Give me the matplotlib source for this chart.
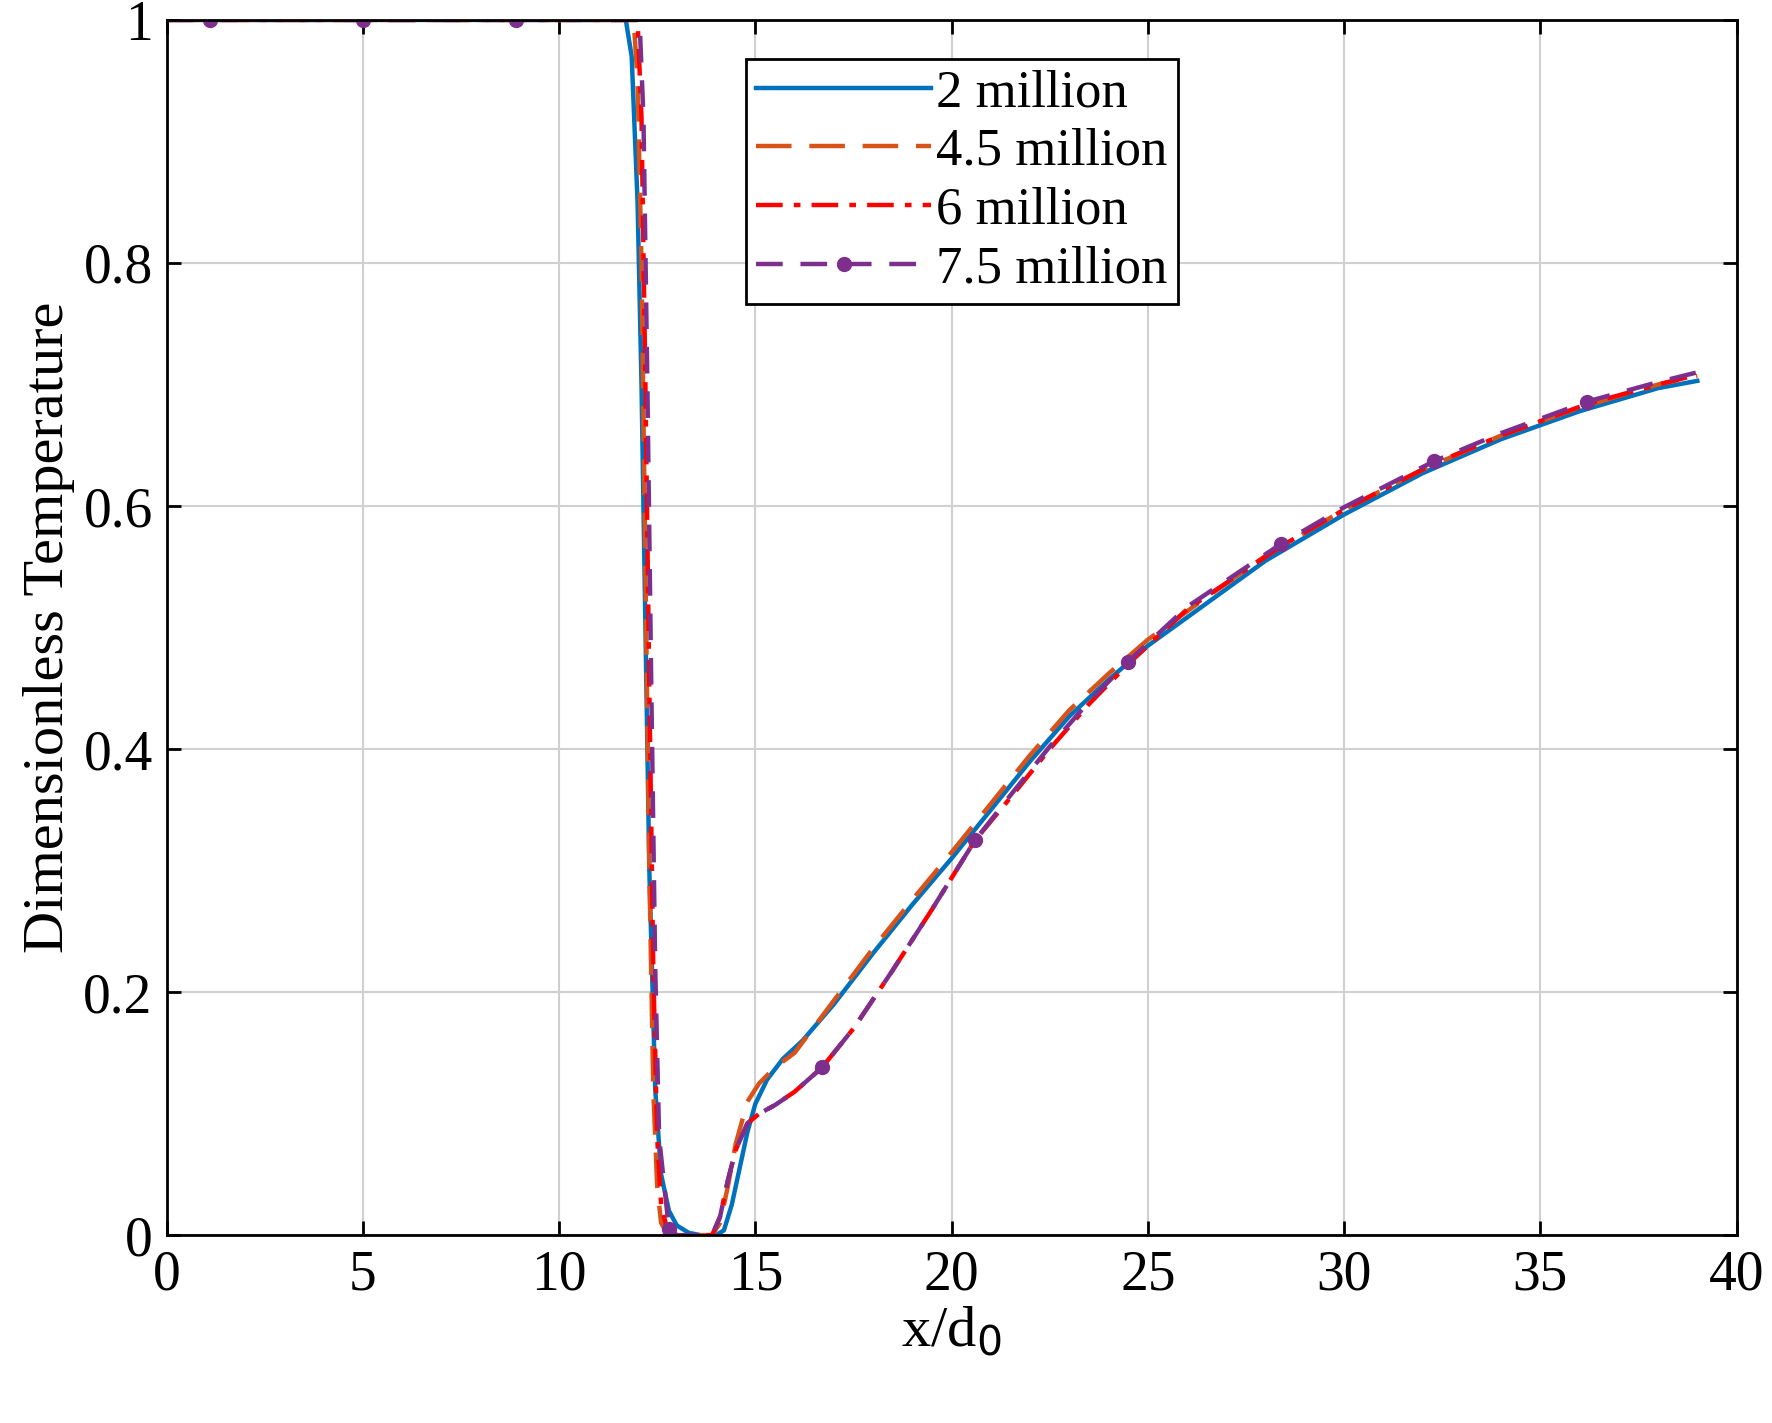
import matplotlib
matplotlib.use("Agg")
import matplotlib.pyplot as plt

x_2m = [0, 11.7, 11.85, 12.0, 12.1, 12.2, 12.3, 12.45, 12.6, 12.8, 13.0, 13.3, 13.6, 14.0, 14.2, 14.4, 14.6, 14.8, 15.0, 15.3, 15.7, 16.2, 17, 18, 19, 20, 21, 22, 23, 24, 25, 26.5, 28, 30, 32, 34, 36, 38, 39]
y_2m = [1, 1, 0.97, 0.85, 0.7, 0.5, 0.3, 0.12, 0.05, 0.02, 0.008, 0.002, 0, 0, 0.004, 0.025, 0.055, 0.085, 0.108, 0.128, 0.145, 0.16, 0.19, 0.232, 0.272, 0.31, 0.35, 0.39, 0.427, 0.457, 0.485, 0.52, 0.555, 0.593, 0.627, 0.655, 0.678, 0.697, 0.703]

x_45m = [0, 11.9, 12.0, 12.1, 12.2, 12.3, 12.4, 12.5, 12.6, 12.75, 13.0, 13.5, 13.9, 14.1, 14.3, 14.5, 14.8, 15.1, 15.5, 16, 17, 18, 19, 20, 21, 22, 23, 24, 25, 26.5, 28, 30, 32, 34, 36, 38, 39]
y_45m = [1, 1, 0.95, 0.8, 0.55, 0.3, 0.12, 0.04, 0.01, 0.002, 0, 0, 0, 0.01, 0.04, 0.075, 0.11, 0.125, 0.138, 0.15, 0.193, 0.236, 0.276, 0.315, 0.355, 0.395, 0.432, 0.462, 0.49, 0.525, 0.559, 0.597, 0.63, 0.658, 0.681, 0.7, 0.707]

x_6m = [0, 12.0, 12.1, 12.2, 12.3, 12.4, 12.5, 12.6, 12.75, 13.0, 13.5, 13.9, 14.1, 14.3, 14.5, 14.8, 15.1, 15.5, 16, 16.7, 17.5, 18.5, 19.5, 20.6, 21.5, 22.5, 23.5, 24.5, 26, 28.4, 30, 32.3, 34, 36.2, 38, 39]
y_6m = [1, 1, 0.92, 0.7, 0.45, 0.22, 0.08, 0.025, 0.005, 0, 0, 0, 0.015, 0.045, 0.07, 0.092, 0.1, 0.107, 0.118, 0.138, 0.17, 0.218, 0.268, 0.325, 0.36, 0.4, 0.437, 0.47, 0.515, 0.567, 0.597, 0.635, 0.658, 0.684, 0.7, 0.708]

x_75m = [0, 1.1, 5.0, 8.9, 12.05, 12.15, 12.25, 12.35, 12.45, 12.55, 12.8, 13.0, 13.5, 13.9, 14.1, 14.3, 14.5, 14.8, 15.1, 15.5, 16, 16.7, 17.5, 18.5, 19.5, 20.6, 21.5, 22.5, 23.5, 24.5, 26, 28.4, 30, 32.3, 34, 36.2, 38, 39]
y_75m = [1, 1, 1, 1, 1, 0.92, 0.7, 0.45, 0.22, 0.08, 0.005, 0, 0, 0, 0.015, 0.045, 0.07, 0.092, 0.1, 0.107, 0.118, 0.138, 0.17, 0.218, 0.268, 0.325, 0.362, 0.402, 0.439, 0.472, 0.517, 0.569, 0.599, 0.637, 0.66, 0.686, 0.702, 0.71]
marker_x_75m = [1.1, 5.0, 8.9, 12.8, 16.7, 20.6, 24.5, 28.4, 32.3, 36.2]

labels = ["2 million", "4.5 million", "6 million", "7.5 million"]

plt.rcParams["font.family"] = "Liberation Serif"
fig = plt.figure(figsize=(17.72, 14.23), dpi=100)
ax = fig.add_axes([0.094, 0.132, 0.886, 0.854])

ax.plot(x_2m, y_2m, color="#0072BD", lw=3.2, label=labels[0])
ax.plot(x_45m, y_45m, color="#D95319", lw=3.2, ls=(0, (8, 4)), label=labels[1])
ax.plot(x_6m, y_6m, color="red", lw=3.2, ls=(0, (6, 2.5, 1.5, 2.5)), label=labels[2])
mk = [i for i, v in enumerate(x_75m) if v in marker_x_75m]
ax.plot(x_75m, y_75m, color="#7E2F8E", lw=3.2, ls=(0, (6, 4)), marker="o", ms=10,
        markevery=mk, label=labels[3])

ax.set_xlim(0, 40)
ax.set_ylim(0, 1)
ax.set_xticks(range(0, 41, 5))
ax.set_yticks([0, 0.2, 0.4, 0.6, 0.8, 1])
ax.set_yticklabels(["0", "0.2", "0.4", "0.6", "0.8", "1"])
ax.grid(True, color="#d0d0d0", lw=1.5)
ax.tick_params(direction="in", top=True, right=True, labelsize=40, length=10, width=2, pad=10)
for s in ax.spines.values():
    s.set_linewidth(2)
ax.set_xlabel("x/d$_0$", fontsize=42, labelpad=2)
ax.set_ylabel("Dimensionless Temperature", fontsize=42, labelpad=6)
leg = ax.legend(loc="upper left", bbox_to_anchor=(0.369, 0.968), fontsize=38, fancybox=False,
                framealpha=1, edgecolor="black", handlelength=3.3, borderpad=0.2, labelspacing=0.2,
                handletextpad=0.1, borderaxespad=0)
leg.get_frame().set_linewidth(2)
fig.savefig("out.png", dpi=100)
